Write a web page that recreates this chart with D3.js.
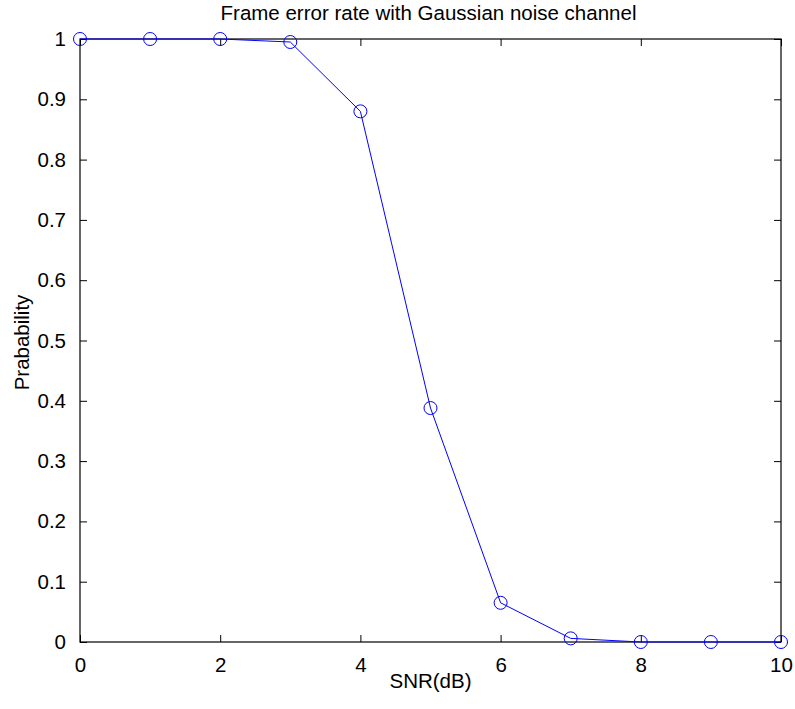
<!DOCTYPE html>
<html>
<head>
<meta charset="utf-8">
<script src="https://cdn.jsdelivr.net/npm/d3@7"></script>
<style>
  body { margin: 0; background: #fff; }
</style>
</head>
<body>
<svg width="795" height="709"></svg>
<script>
const snr = [0, 1, 2, 3, 4, 5, 6, 7, 8, 9, 10];
const fer = [1, 1, 1, 0.995, 0.88, 0.388, 0.065, 0.006, 0, 0, 0];
const xTicks = [0, 2, 4, 6, 8, 10];
const yTicks = [0, 0.1, 0.2, 0.3, 0.4, 0.5, 0.6, 0.7, 0.8, 0.9, 1];

const svg = d3.select('svg');
const margin = { top: 39, left: 80, right: 14, bottom: 67 };
const width = +svg.attr('width');
const height = +svg.attr('height');
const innerWidth = width - margin.left - margin.right;
const innerHeight = height - margin.top - margin.bottom;
const fontSize = 20.5;
const fontFamily = "'Liberation Sans', Arial, sans-serif";

const g = svg.append('g')
  .attr('transform', `translate(${margin.left},${margin.top})`);

const xScale = d3.scaleLinear().domain([0, 10]).range([0, innerWidth]);
const yScale = d3.scaleLinear().domain([0, 1]).range([innerHeight, 0]);

// frame box
g.append('rect')
  .attr('width', innerWidth).attr('height', innerHeight)
  .attr('fill', 'none').attr('stroke', '#000').attr('stroke-width', 1.2);

const styleAxis = sel => {
  sel.attr('font-size', fontSize).attr('font-family', fontFamily);
  sel.select('.domain').remove();
  sel.selectAll('.tick line').attr('stroke', '#000');
  sel.selectAll('.tick text').attr('fill', '#000');
};
const noLabels = sel => sel.selectAll('.tick text').remove();

// axes with ticks pointing inward
g.append('g').attr('transform', `translate(0,${innerHeight})`)
  .call(d3.axisBottom(xScale).tickValues(xTicks).tickSize(-7).tickPadding(15).tickFormat(d3.format('d')))
  .call(styleAxis);
g.append('g')
  .call(d3.axisTop(xScale).tickValues(xTicks).tickSize(-7))
  .call(styleAxis).call(noLabels);
g.append('g')
  .call(d3.axisLeft(yScale).tickValues(yTicks).tickSize(-7).tickPadding(14).tickFormat(d => d3.format('')(d)))
  .call(styleAxis);
g.append('g').attr('transform', `translate(${innerWidth},0)`)
  .call(d3.axisRight(yScale).tickValues(yTicks).tickSize(-7))
  .call(styleAxis).call(noLabels);

const data = snr.map((s, i) => ({ snr: s, fer: fer[i] }));

const line = d3.line()
  .x(d => xScale(d.snr))
  .y(d => yScale(d.fer));

g.append('path')
  .datum(data)
  .attr('d', line)
  .attr('fill', 'none')
  .attr('stroke', '#0000ff')
  .attr('stroke-width', 1);

g.selectAll('circle')
  .data(data).enter()
  .append('circle')
    .attr('cx', d => xScale(d.snr))
    .attr('cy', d => yScale(d.fer))
    .attr('r', 6.5)
    .attr('fill', 'none')
    .attr('stroke', '#0000ff')
    .attr('stroke-width', 1);

svg.append('text')
  .attr('text-anchor', 'middle')
  .attr('x', margin.left + innerWidth / 2 - 2)
  .attr('y', 20)
  .attr('font-size', fontSize).attr('font-family', fontFamily)
  .text('Frame error rate with Gaussian noise channel');

svg.append('text')
  .attr('text-anchor', 'middle')
  .attr('x', margin.left + innerWidth / 2)
  .attr('y', 688)
  .attr('font-size', fontSize).attr('font-family', fontFamily)
  .text('SNR(dB)');

svg.append('text')
  .attr('text-anchor', 'middle')
  .attr('transform', `translate(29,${margin.top + innerHeight / 2 + 2}) rotate(-90)`)
  .attr('font-size', fontSize).attr('font-family', fontFamily)
  .text('Prabability');
</script>
</body>
</html>
